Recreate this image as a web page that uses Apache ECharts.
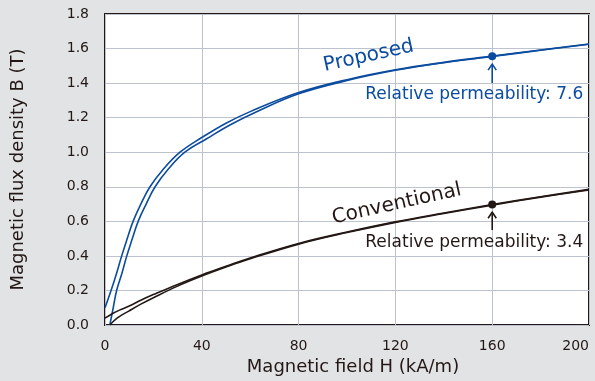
<!DOCTYPE html>
<html>
<head>
<meta charset="utf-8">
<script src="https://cdn.jsdelivr.net/npm/echarts@6/dist/echarts.min.js"></script>
<style>
  html, body { margin: 0; padding: 0; background: #e2e3e5; }
  #runChart { width: 595px; height: 381px; }
</style>
</head>
<body>
<div id="runChart"></div>
<script>
// hysteresis branches: [H (kA/m), B (T)]
let proposedUpper = [[0, 0.1], [2.5, 0.2], [4.8, 0.3], [6.9, 0.4], [9.2, 0.5], [11.6, 0.6], [14.8, 0.7], [18.6, 0.8], [24, 0.9], [31, 1.0], [40, 1.085], [50, 1.168], [60, 1.235], [80, 1.345], [100, 1.42], [120, 1.477], [140, 1.52], [160, 1.556], [180, 1.592], [200, 1.626]];
let proposedLower = [[2, 0], [3.4, 0.1], [4.8, 0.2], [7, 0.3], [9, 0.4], [11.3, 0.5], [13.7, 0.6], [17, 0.7], [20.7, 0.8], [26, 0.9], [33, 1.0], [42, 1.078], [52, 1.16], [62, 1.23], [80, 1.338], [100, 1.415], [120, 1.474], [140, 1.518], [160, 1.554], [180, 1.59], [200, 1.625]];
let conventionalUpper = [[0, 0.04], [3, 0.065], [6, 0.086], [10, 0.11], [15, 0.145], [20, 0.176], [30, 0.235], [40, 0.29], [50, 0.34], [60, 0.388], [80, 0.472], [100, 0.538], [120, 0.597], [140, 0.648], [160, 0.697], [180, 0.742], [200, 0.785]];
let conventionalLower = [[2, 0], [5, 0.04], [10, 0.082], [15, 0.122], [20, 0.158], [30, 0.225], [40, 0.283], [50, 0.335], [60, 0.383], [80, 0.468], [100, 0.535], [120, 0.594], [140, 0.645], [160, 0.694], [180, 0.74], [200, 0.782]];
let markPoints = [[160, 1.556], [160, 0.697]];
let permLabels = ["Relative permeability: 7.6", "Relative permeability: 3.4"];
let curveNames = ["Proposed", "Conventional"];
let xTicks = [0, 40, 80, 120, 160, 200];
let yTicks = [0, 0.2, 0.4, 0.6, 0.8, 1.0, 1.2, 1.4, 1.6, 1.8];

const BLUE = "#0b4ca0";
const DARK = "#231815";
const FONT = "DejaVu Sans";

function branch(data, color) {
  return {
    type: "line",
    data: data,
    smooth: 0.4,
    showSymbol: false,
    silent: true,
    lineStyle: { color: color, width: 1.6 }
  };
}

function arrow(x, yLow, yTop, color) {
  let dx = 1.7, dy = 0.035;
  return {
    type: "lines",
    coordinateSystem: "cartesian2d",
    polyline: true,
    silent: true,
    lineStyle: { color: color, width: 1.6, opacity: 1 },
    data: [
      { coords: [[x, yLow], [x, yTop]] },
      { coords: [[x - dx, yTop - dy], [x, yTop], [x + dx, yTop - dy]] }
    ]
  };
}

function textAt(pos, text, color, size, rotate) {
  return {
    type: "scatter",
    data: [pos],
    symbolSize: 0,
    silent: true,
    itemStyle: { opacity: 1 },
    label: {
      show: true,
      position: "inside",
      formatter: text,
      color: color,
      fontFamily: FONT,
      fontSize: size,
      rotate: rotate || 0
    }
  };
}

let option = {
  backgroundColor: "#e2e3e5",
  animation: false,
  grid: {
    left: 105,
    right: 6,
    top: 14,
    bottom: 54,
    show: true,
    backgroundColor: "#ffffff",
    borderColor: DARK,
    borderWidth: 2
  },
  xAxis: {
    type: "value",
    min: xTicks[0],
    max: xTicks[xTicks.length - 1],
    interval: 40,
    name: "Magnetic field H (kA/m)",
    nameLocation: "middle",
    nameGap: 33,
    nameTextStyle: { color: DARK, fontFamily: FONT, fontSize: 18, padding: [0, 0, 0, 12] },
    axisLine: { show: false },
    axisTick: { show: false },
    axisLabel: { color: DARK, fontFamily: FONT, fontSize: 14, margin: 14, alignMaxLabel: "right" },
    splitLine: { lineStyle: { color: "#bcc3cf", width: 1 } }
  },
  yAxis: {
    type: "value",
    min: yTicks[0],
    max: yTicks[yTicks.length - 1],
    interval: 0.2,
    name: "Magnetic flux density B (T)",
    nameLocation: "middle",
    nameGap: 78,
    nameTextStyle: { color: DARK, fontFamily: FONT, fontSize: 18 },
    axisLine: { show: false },
    axisTick: { show: false },
    axisLabel: {
      color: DARK, fontFamily: FONT, fontSize: 14, margin: 16,
      formatter: function (v) { return v.toFixed(1); }
    },
    splitLine: { lineStyle: { color: "#bcc3cf", width: 1 } }
  },
  series: [
    branch(proposedUpper, BLUE),
    branch(proposedLower, BLUE),
    branch(conventionalUpper, DARK),
    branch(conventionalLower, DARK),
    {
      type: "scatter",
      data: [markPoints[0]],
      symbolSize: 8,
      silent: true,
      itemStyle: { color: BLUE, opacity: 1 }
    },
    {
      type: "scatter",
      data: [markPoints[1]],
      symbolSize: 8,
      silent: true,
      itemStyle: { color: DARK, opacity: 1 }
    },
    arrow(160, 1.40, 1.51, BLUE),
    arrow(160, 0.55, 0.653, DARK),
    textAt([152.6, 1.333], permLabels[0], BLUE, 17),
    textAt([152.6, 0.477], permLabels[1], DARK, 17),
    textAt([108.9, 1.557], curveNames[0], BLUE, 20, 12.5),
    textAt([120.5, 0.70], curveNames[1], DARK, 20, 12.5)
  ]
};

var myChart = echarts.init(document.getElementById("runChart"));
myChart.setOption(option);
</script>
</body>
</html>
